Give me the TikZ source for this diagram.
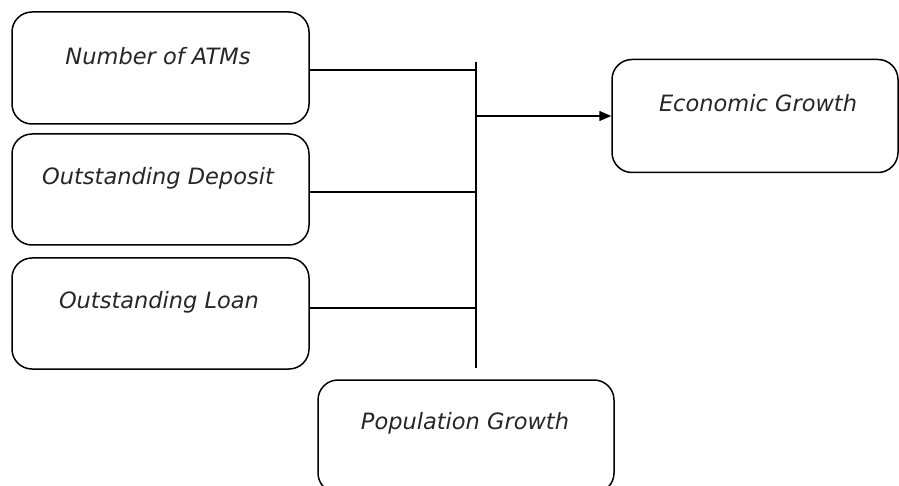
\documentclass[tikz,border=0pt]{standalone}
\usepackage{fontspec}
\setmainfont{DejaVu Sans}
\usetikzlibrary{arrows.meta}
\begin{document}
\begin{tikzpicture}[x=1pt,y=-1pt,
  box/.style={draw, line width=1.5pt, rounded corners=20pt, inner sep=0pt},
  lbl/.style={font=\fontsize{22.5}{26}\selectfont\itshape, inner sep=0pt, text=black!85},
  wire/.style={line width=1.6pt}]
\useasboundingbox (0,0) rectangle (899,486);
\clip (0,0) rectangle (899,486);
\node[box, minimum width=297pt, minimum height=112pt] (b1) at (160.5,68) {};
\node[box, minimum width=297pt, minimum height=111pt] (b2) at (160.5,189.5) {};
\node[box, minimum width=297pt, minimum height=111pt] (b3) at (160.5,313.5) {};
\node[box, minimum width=286pt, minimum height=113pt] (b4) at (755,116) {};
\node[box, minimum width=296pt, minimum height=113pt] (b5) at (466,436.5) {};
\node[lbl] (t1) at (158,56) {Number of ATMs};
\node[lbl] (t2) at (158,178) {Outstanding Deposit};
\node[lbl] (t3) at (159,302) {Outstanding Loan};
\node[lbl] (t4) at (758,103) {Economic Growth};
\node[lbl] (t5) at (465,423) {Population Growth};
\coordinate (bt) at (476,62);
\coordinate (bb) at (476,368);
\draw[wire] (bt) -- (bb);
\draw[wire] (b1.east) ++(0,2) -- (bt |- 0,70);
\draw[wire] (b2.east) ++(0,2.5) -- (bt |- 0,192);
\draw[wire] (b3.east) ++(0,-5.5) -- (bt |- 0,308);
\draw[wire, -{Triangle[length=12pt,width=10pt]}] (b4.west -| bt) -- (b4.west);
\end{tikzpicture}
\end{document}
